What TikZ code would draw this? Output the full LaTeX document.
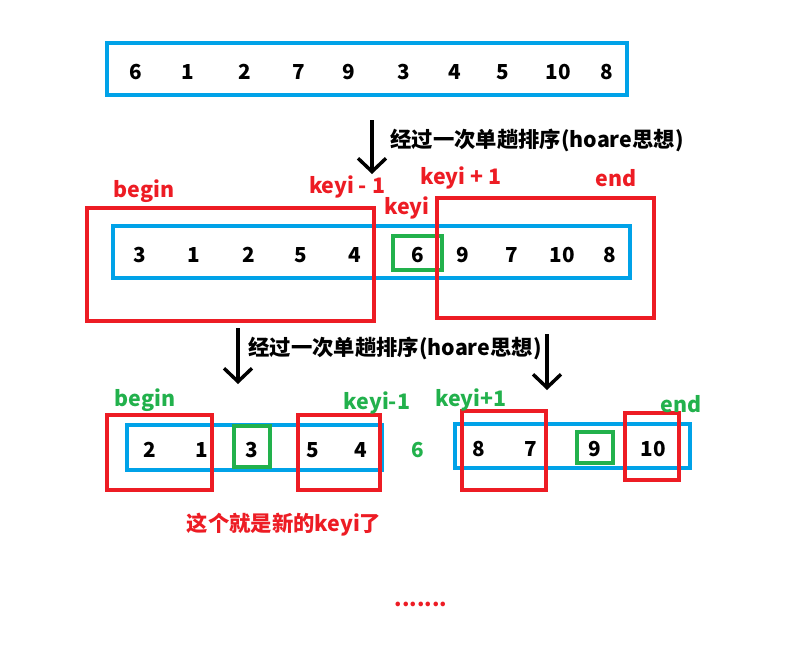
\documentclass[tikz,border=0pt]{standalone}
\usepackage{fontspec}
\setmainfont{Noto Sans CJK SC}
\usepackage{tikz}
\usetikzlibrary{arrows.meta,positioning}
\definecolor{pblue}{RGB}{0,162,232}
\definecolor{pred}{RGB}{237,28,36}
\definecolor{pgreen}{RGB}{34,177,76}

\begin{document}
\begin{tikzpicture}[
  x=0.75pt, y=-0.75pt,
  num/.style={font=\fontsize{15.5}{18}\selectfont\bfseries, inner sep=0pt},
  lbl/.style={font=\fontsize{16}{19}\selectfont\bfseries, inner sep=0pt},
  bluebox/.style={draw=pblue, line width=3pt},
  redbox/.style={draw=pred, line width=3pt},
  greenbox/.style={draw=pgreen, line width=3pt},
  arr/.style={-{Straight Barb[length=10pt,width=21pt,line width=2.6pt]}, line width=2.6pt}
]
  \useasboundingbox (0,0) rectangle (807,644);

  % original array
  \draw[bluebox] (107,43) rectangle (627,95);
  \foreach \v/\x [count=\i] in {6/136,1/188,2/245,7/299,9/349,3/404,4/455,5/503,10/558,8/607}
    \node[num] (a\i) at (\x,72) {\v};

  % first pass
  \coordinate (d1s) at (372,120);
  \coordinate (d1e) at (372,174);
  \draw[arr] (d1s) -- (d1e);
  \node[lbl] (pass1) at (537,140) {经过一次单趟排序(hoare思想)};

  \draw[bluebox] (113,226) rectangle (630,278);
  \foreach \v/\x [count=\i] in {3/140,1/194,2/249,5/301,4/355,6/418,9/463,7/512,10/562,8/610}
    \node[num] (b\i) at (\x,255) {\v};
  \draw[greenbox] (393,236) rectangle (442,270);
  \draw[redbox] (87,208) rectangle (374,321);
  \draw[redbox] (437,198) rectangle (654,318);

  \node[lbl, text=pred] (beg1) at (144,191) {begin};
  \node[lbl, text=pred] (km1) at (347,187) {keyi - 1};
  \node[lbl, text=pred] (key1) at (407,208) {keyi};
  \node[lbl, text=pred] (kp1) at (461,178) {keyi + 1};
  \node[lbl, text=pred] (end1) at (616,178) {end};

  % second pass
  \coordinate (d2s) at (238,328);
  \coordinate (d2e) at (238,384);
  \draw[arr] (d2s) -- (d2e);
  \coordinate (d3s) at (547,334);
  \coordinate (d3e) at (547,390);
  \draw[arr] (d3s) -- (d3e);
  \node[lbl] (pass2) at (395,348) {经过一次单趟排序(hoare思想)};

  \draw[bluebox] (127,425) rectangle (382,470);
  \foreach \v/\x [count=\i] in {2/150,1/202,3/252,5/313,4/361}
    \node[num] (c\i) at (\x,450) {\v};
  \draw[greenbox] (234,426) rectangle (270,467);
  \draw[redbox] (107,415) rectangle (212,490);
  \draw[redbox] (298,415) rectangle (380,490);

  \node[num, text=pgreen] (mid) at (418,450) {6};

  \draw[bluebox] (455,424) rectangle (690,468);
  \foreach \v/\x [count=\i] in {8/479,7/531,9/595,10/653}
    \node[num] (e\i) at (\x,449) {\v};
  \draw[greenbox] (577,432) rectangle (613,463);
  \draw[redbox] (462,411) rectangle (546,490);
  \draw[redbox] (625,413) rectangle (679,480);

  \node[lbl, text=pgreen] (beg2) at (145,400) {begin};
  \node[lbl, text=pgreen] (km2) at (377,403) {keyi-1};
  \node[lbl, text=pgreen] (kp2) at (471,400) {keyi+1};
  \node[lbl, text=pgreen] (end2) at (681,404) {end};

  \node[lbl, text=pred] (newkey) at (284,525) {这个就是新的keyi了};
  \node[lbl, text=pred] (dots) at (421,604) {.......};
\end{tikzpicture}
\end{document}
